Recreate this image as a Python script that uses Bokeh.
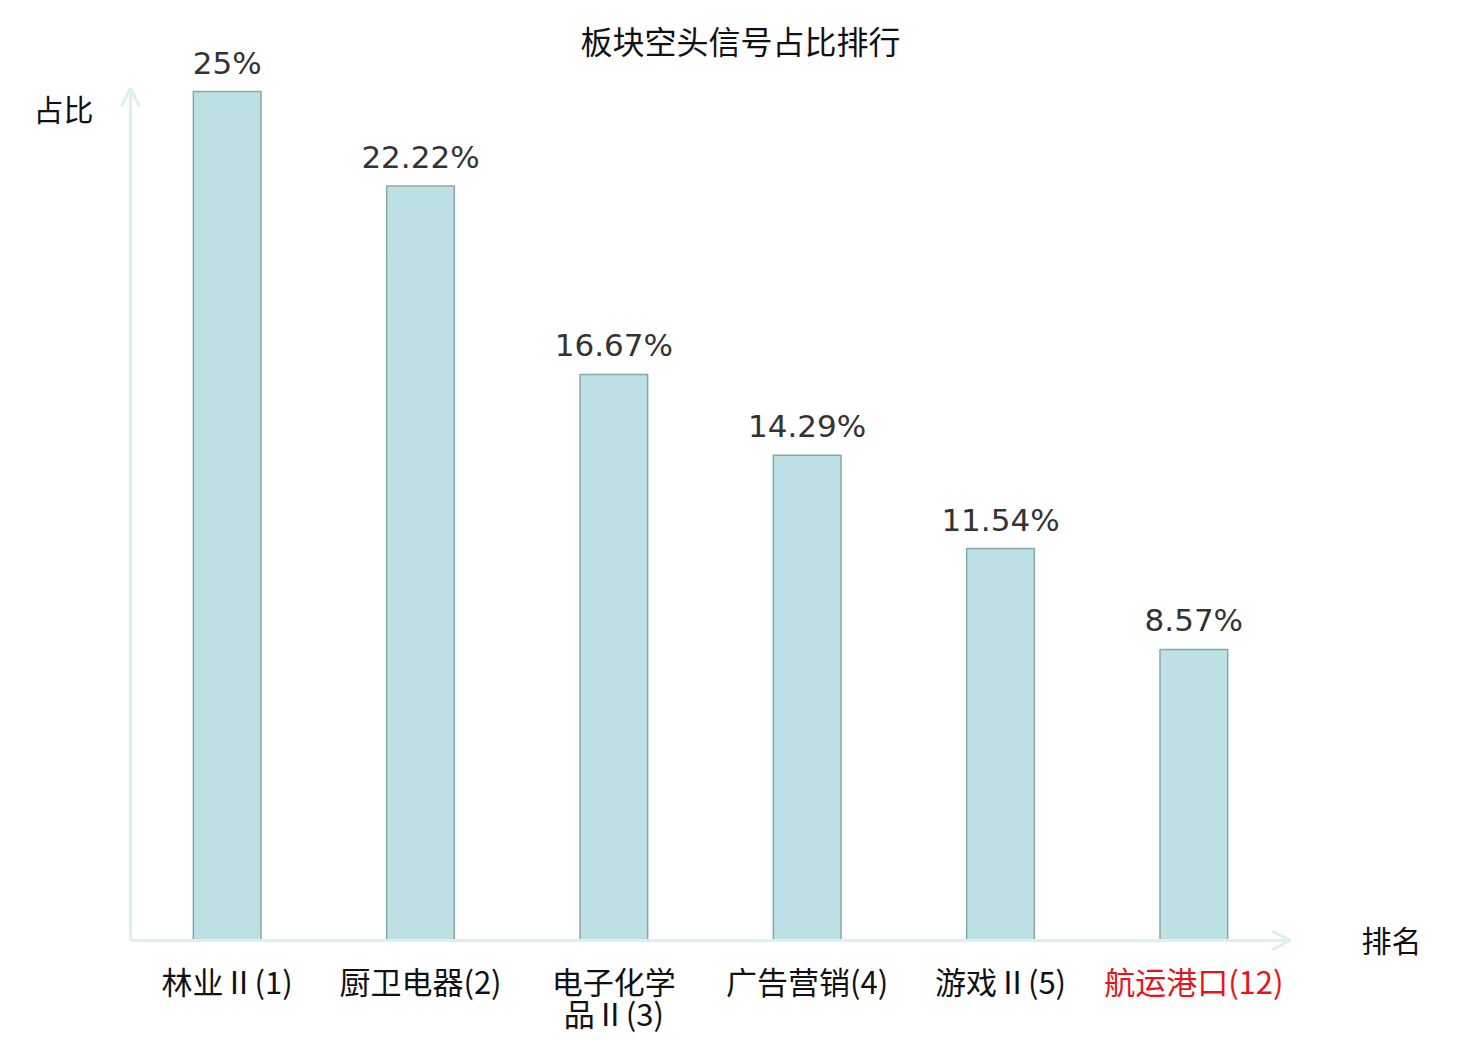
from bokeh.plotting import figure
from bokeh.models import ColumnDataSource, LabelSet, Label, Arrow, OpenHead, Range1d
from bokeh.core.properties import value
from bokeh.embed import file_html
from bokeh.resources import INLINE

# data
categories = ["林业Ⅱ(1)", "厨卫电器(2)", "电子化学\n品Ⅱ(3)", "广告营销(4)", "游戏Ⅱ(5)", "航运港口(12)"]
values = [25, 22.22, 16.67, 14.29, 11.54, 8.57]
value_labels = ["25%", "22.22%", "16.67%", "14.29%", "11.54%", "8.57%"]
label_colors = ["#111111", "#111111", "#111111", "#111111", "#111111", "#e8141a"]
title_text = "板块空头信号占比排行"
y_title = "占比"
x_title = "排名"

# layout (pixels on the canvas)
W, H = 1480, 1040
PL, PR, PT, PB = 130, 1290, 91, 940
YMAX = 25
n = len(categories)
sx = (PR - PL) / n           # px per category
sy = (PB - PT) / YMAX        # px per percent


def dx(px):
    return -0.5 + (px - PL) / sx


def dy(py):
    return (PB - py) / sy


FONT = "DejaVu Sans"
CJK = "Noto Sans CJK SC"
x_pos = list(range(n))
line1 = [c.split("\n")[0] for c in categories]
line2 = [c.split("\n")[1] if "\n" in c else "" for c in categories]

src = ColumnDataSource(dict(x=x_pos, v=values, vl=value_labels, l1=line1, l2=line2,
                            col=label_colors, zero=[0] * n))

p = figure(width=W, height=H,
           x_range=Range1d(dx(0), dx(W)), y_range=Range1d(dy(H), dy(0)),
           output_backend="svg", toolbar_location=None,
           min_border=0)
p.outline_line_color = None
p.grid.visible = False
p.axis.visible = False

p.vbar(x="x", top="v", width=0.35, bottom=0, source=src,
       fill_color="#bce0e3", line_color="#8aa7a8", line_width=1.5)

# axes with arrows
AX = "#dcf1ee"
p.add_layout(Arrow(x_start=-0.5, y_start=0, x_end=n - 0.5, y_end=0,
                   line_color=AX, line_width=3,
                   end=OpenHead(size=18, line_color=AX, line_width=3)))
p.add_layout(Arrow(x_start=-0.5, y_start=0, x_end=-0.5, y_end=YMAX + 0.1,
                   line_color=AX, line_width=3,
                   end=OpenHead(size=18, line_color=AX, line_width=3)))

p.add_layout(LabelSet(x="x", y="v", text="vl", source=src, text_align="center",
                      text_baseline="alphabetic", y_offset=18,
                      text_font=value(FONT), text_font_size="31px", text_color="#333333"))
p.add_layout(LabelSet(x="x", y="zero", text="l1", source=src, text_align="center",
                      text_baseline="middle", y_offset=-40,
                      text_font=value(CJK), text_font_size="31px", text_color="col"))
p.add_layout(LabelSet(x="x", y="zero", text="l2", source=src, text_align="center",
                      text_baseline="middle", y_offset=-72,
                      text_font=value(CJK), text_font_size="31px", text_color="col"))

p.add_layout(Label(x=dx(740), y=dy(39), text=title_text,
                   text_align="center", text_baseline="middle",
                   text_font=CJK, text_font_size="32px", text_color="#111111"))
p.add_layout(Label(x=dx(63), y=dy(107), text=y_title,
                   text_align="center", text_baseline="middle",
                   text_font=CJK, text_font_size="30px", text_color="#111111"))
p.add_layout(Label(x=dx(1391), y=dy(938), text=x_title,
                   text_align="center", text_baseline="middle",
                   text_font=CJK, text_font_size="30px", text_color="#111111"))

open("out.html", "w").write(file_html(p, INLINE))
